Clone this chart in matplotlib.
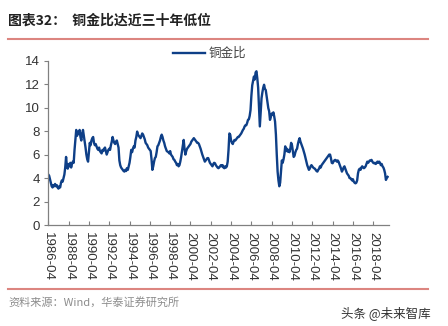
import matplotlib
matplotlib.use("Agg")
import matplotlib.pyplot as plt
from matplotlib.lines import Line2D

plt.rcParams['font.family'] = ['Liberation Sans', 'Noto Sans CJK SC', 'DejaVu Sans']

# Monthly copper/gold ratio, 1986-04 .. 2019-09
r1986 = [4.3, 4.2, 3.9, 3.6, 3.3, 3.2, 3.4, 3.3, 3.5]
r1987 = [3.3, 3.4, 3.2, 3.1, 3.3, 3.2, 3.6, 3.8, 3.7, 4.0, 4.3, 4.9]
r1988 = [5.8, 5.0, 4.8, 5.2, 5.0, 5.3, 4.9, 5.2, 5.4, 5.3, 6.4, 7.2]
r1989 = [8.1, 7.6, 7.9, 7.8, 8.1, 7.5, 7.2, 7.8, 8.1, 7.6, 7.1, 6.6]
r1990 = [6.0, 5.6, 5.4, 6.2, 7.0, 6.8, 7.2, 7.4, 7.5, 7.0, 6.8, 6.9]
r1991 = [6.7, 6.5, 6.4, 6.6, 6.3, 6.2, 6.1, 6.4, 6.3, 6.5, 6.6, 6.3]
r1992 = [6.0, 6.2, 6.4, 6.5, 6.4, 6.8, 7.1, 7.5, 7.2, 7.0, 6.9, 7.1]
r1993 = [7.2, 6.9, 6.6, 5.5, 5.1, 4.9, 4.8, 4.7, 4.6, 4.55, 4.7, 4.6]
r1994 = [4.85, 4.7, 5.0, 5.3, 5.8, 6.4, 6.2, 6.5, 6.7, 6.6, 7.2, 7.5]
r1995 = [7.96, 7.7, 7.6, 7.5, 7.4, 7.6, 7.8, 7.7, 7.5, 7.3, 7.0, 6.9]
r1996 = [6.8, 6.6, 6.5, 6.4, 6.3, 5.6, 4.7, 5.0, 5.4, 5.7, 5.8, 6.2]
r1997 = [6.7, 6.8, 7.0, 7.2, 7.5, 7.7, 7.5, 7.2, 7.0, 6.7, 6.5, 6.3]
r1998 = [6.25, 6.2, 6.1, 6.3, 6.0, 5.9, 5.8, 5.6, 5.55, 5.4, 5.3, 5.1]
r1999 = [5.2, 5.0, 5.1, 5.4, 5.8, 6.3, 6.8, 7.25, 6.5, 6.0, 6.3, 6.5]
r2000 = [6.6, 6.7, 6.8, 6.9, 7.1, 7.2, 7.3, 7.4, 7.3, 7.2, 7.1, 7.0]
r2001 = [7.0, 6.9, 6.7, 6.5, 6.25, 6.0, 5.8, 5.6, 5.4, 5.5, 5.6, 5.7]
r2002 = [5.7, 5.5, 5.3, 5.2, 5.1, 5.0, 5.2, 5.3, 5.26, 5.1, 5.0, 4.9]
r2003 = [4.84, 4.9, 5.0, 5.1, 5.0, 5.1, 4.9, 4.84, 5.0, 4.9, 5.0, 5.4]
r2004 = [6.4, 7.8, 7.7, 7.2, 7.0, 6.9, 7.1, 7.25, 7.2, 7.3, 7.4, 7.5]
r2005 = [7.5, 7.6, 7.7, 7.8, 7.96, 8.1, 8.2, 8.4, 8.5, 8.5, 8.7, 8.96]
r2006 = [9.0, 9.3, 9.8, 11.0, 11.9, 12.3, 12.65, 12.4, 13.0, 13.1, 12.5, 11.7]
r2007 = [10.0, 8.4, 9.6, 10.8, 11.3, 11.7, 11.95, 11.6, 11.5, 11.0, 10.5, 9.96]
r2008 = [9.7, 8.96, 9.2, 9.5, 9.4, 9.6, 9.25, 8.8, 7.7, 6.0, 4.55, 3.8]
r2009 = [3.3, 3.6, 4.5, 5.5, 5.3, 5.6, 6.0, 6.7, 6.3, 6.5, 6.25, 6.4]
r2010 = [6.2, 6.5, 7.0, 6.8, 6.3, 5.8, 5.9, 6.2, 6.4, 6.5, 6.9, 7.2]
r2011 = [7.4, 7.1, 6.9, 6.7, 6.5, 6.25, 6.0, 5.7, 5.4, 5.1, 4.9, 4.7]
r2012 = [4.8, 5.0, 5.1, 5.0, 4.9, 4.84, 4.8, 4.7, 4.6, 4.55, 4.7, 4.8]
r2013 = [5.0, 4.9, 5.1, 5.2, 5.3, 5.4, 5.5, 5.6, 5.7, 5.8, 5.9, 6.0]
r2014 = [6.0, 5.7, 5.3, 5.26, 5.4, 5.5, 5.55, 5.5, 5.4, 5.5, 5.4, 5.2]
r2015 = [5.0, 4.8, 4.55, 4.7, 4.9, 5.0, 4.8, 4.6, 4.4, 4.3, 4.2, 4.0]
r2016 = [4.0, 3.9, 3.8, 3.9, 3.7, 3.6, 3.55, 3.6, 3.8, 4.4, 4.7, 4.8]
r2017 = [4.7, 4.9, 5.0, 4.9, 4.84, 4.9, 5.0, 5.2, 5.4, 5.3, 5.4, 5.5]
r2018 = [5.5, 5.55, 5.4, 5.3, 5.26, 5.3, 5.2, 5.3, 5.4, 5.3, 5.4, 5.3]
r2019 = [5.1, 5.2, 5.0, 4.9, 4.7, 4.4, 3.84, 4.0, 4.1]

ratio = (r1986 + r1987 + r1988 + r1989 + r1990 + r1991 + r1992 + r1993 + r1994
         + r1995 + r1996 + r1997 + r1998 + r1999 + r2000 + r2001 + r2002 + r2003
         + r2004 + r2005 + r2006 + r2007 + r2008 + r2009 + r2010 + r2011 + r2012
         + r2013 + r2014 + r2015 + r2016 + r2017 + r2018 + r2019)

tick_labels = ["1986-04", "1988-04", "1990-04", "1992-04", "1994-04", "1996-04",
               "1998-04", "2000-04", "2002-04", "2004-04", "2006-04", "2008-04",
               "2010-04", "2012-04", "2014-04", "2016-04", "2018-04"]
y_ticks = [0, 2, 4, 6, 8, 10, 12, 14]

title = "图表32：  铜金比达近三十年低位"
series_name = "铜金比"
source = "资料来源：Wind，华泰证券研究所"
mark = "头条 @未来智库"

W, H = 448, 326
fig = plt.figure(figsize=(W / 100, H / 100), dpi=100)
fig.patch.set_facecolor("white")

ax = fig.add_axes([48.3 / W, 1 - 225 / H, (389.3 - 48.3) / W, (225 - 60.7) / H])
months = list(range(len(ratio)))
line, = ax.plot(months, ratio, color="#0E3F87", lw=1.7, solid_joinstyle="round")

ax.set_xlim(0, 403)
ax.set_ylim(0, 14)
ax.set_yticks(y_ticks)
ax.set_xticks([24 * i for i in range(len(tick_labels))])
ax.set_xticklabels(tick_labels, rotation=270, fontsize=9.5, color="#333333")
ax.tick_params(axis="x", direction="in", length=3, color="#808080", pad=5)
ax.tick_params(axis="y", direction="out", length=3, color="#808080",
               labelsize=9.5, labelcolor="#333333", pad=3)
for s in ("top", "right"):
    ax.spines[s].set_visible(False)
for s in ("left", "bottom"):
    ax.spines[s].set_color("#808080")
    ax.spines[s].set_linewidth(0.9)

# legend entry
fig.add_artist(Line2D([173 / W, 205 / W], [1 - 53 / H, 1 - 53 / H],
                      color="#0E3F87", lw=1.7))
fig.text(209 / W, 1 - 53 / H, series_name, fontsize=9, color="#404040",
         va="center", ha="left", family=["Noto Sans CJK SC"])

# header and footer
fig.text(8 / W, 1 - 21 / H, title, fontsize=10, fontweight="bold", color="#222222",
         va="center", ha="left", family=["Noto Sans CJK SC", "DejaVu Sans"])
fig.add_artist(Line2D([8 / W, 428 / W], [1 - 38.5 / H, 1 - 38.5 / H],
                      color="#DC8580", lw=1.5))
fig.add_artist(Line2D([8 / W, 428 / W], [1 - 288.5 / H, 1 - 288.5 / H],
                      color="#DC8580", lw=1.5))
fig.text(8 / W, 1 - 302 / H, source, fontsize=8, color="#8C8C8C",
         va="center", ha="left", family=["Noto Sans CJK SC", "DejaVu Sans"])
fig.text(431 / W, 1 - 313 / H, mark, fontsize=9, color="#333333",
         va="center", ha="right", family=["Noto Sans CJK SC", "DejaVu Sans"])

fig.savefig("out.png", dpi=100, facecolor="white")
